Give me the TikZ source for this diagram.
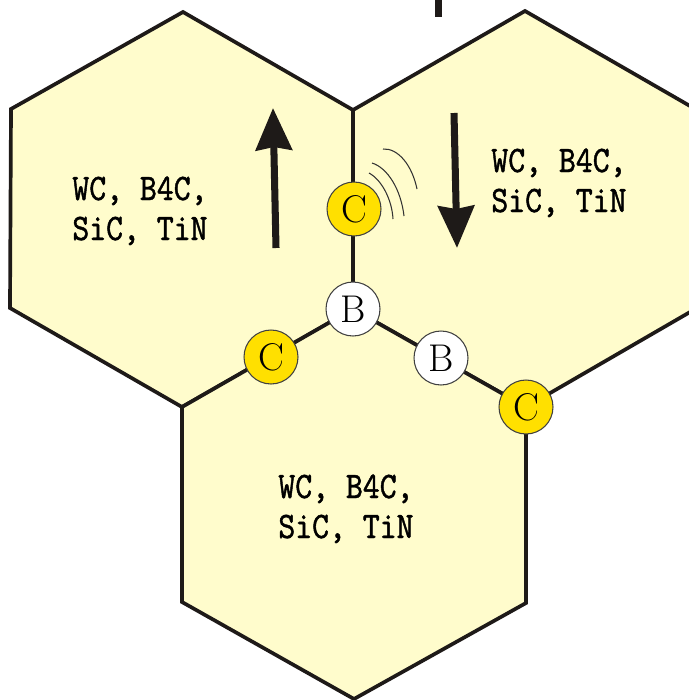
\documentclass[tikz,border=0pt]{standalone}
\usepackage{fontspec}
\usetikzlibrary{arrows.meta}
\definecolor{hexfill}{HTML}{FFFCCC}
\definecolor{cyel}{HTML}{FFE000}
\definecolor{edgec}{HTML}{1E1A18}
\newfontfamily\lblfamily{lmmono10-regular.otf}[FakeStretch=0.86,FakeBold=1.2]
\newcommand\labelfont{\fontsize{21.3}{22.7}\selectfont\lblfamily}
\begin{document}
\begin{tikzpicture}[x=0.02cm,y=-0.02cm,
  hexagon/.style={fill=hexfill, draw=edgec, line width=2.1pt, line join=miter},
  atomC/.style={circle, fill=cyel, draw=black!75, line width=0.6pt, minimum size=1.08cm, inner sep=0pt, font=\fontsize{22}{22}\selectfont},
  atomB/.style={atomC, fill=white},
  lbl/.style={anchor=base west, inner sep=0pt, font=\labelfont},
  bigarrow/.style={draw=edgec, line width=4pt, -{Stealth[length=0.84cm,width=0.72cm,inset=0.06cm]}},
  wave/.style={draw=black!80, line width=0.6pt}]
\useasboundingbox (0,0) rectangle (689,700);
\clip (0,0) rectangle (689,700);
% vertices
\coordinate (Lt) at (183,12);
\coordinate (Lul) at (11,109);
\coordinate (Lll) at (10,308);
\coordinate (Lb) at (182,407);
\coordinate (J1) at (353,110);
\coordinate (J0) at (353,309);
\coordinate (Rt) at (525,11);
\coordinate (Rur) at (697,110);
\coordinate (Rlr) at (697,308);
\coordinate (J2) at (526,407);
\coordinate (Blr) at (526,603);
\coordinate (Bb) at (354,699);
\coordinate (Bll) at (182,602);
% hexagons
\path[hexagon] (Lt) -- (J1) -- (J0) -- (Lb) -- (Lll) -- (Lul) -- cycle;
\path[hexagon] (J1) -- (Rt) -- (Rur) -- (Rlr) -- (J2) -- (J0) -- cycle;
\path[hexagon] (J0) -- (J2) -- (Blr) -- (Bb) -- (Bll) -- (Lb) -- cycle;
% top mark
\fill[edgec] (435,0) rectangle (442,17);
% atoms
\node[atomC] (C1) at (354,209) {C};
\node[atomB] (B1) at (J0) {B};
\node[atomC] (C2) at (271,357) {C};
\node[atomB] (B2) at (441,358) {B};
\node[atomC] (C3) at (J2) {C};
% waves
\draw[wave] (369,173) .. controls (382,180) and (392,200) .. (393,219);
\draw[wave] (372,163) .. controls (388,168) and (401,190) .. (404,216);
\draw[wave] (383,149) .. controls (398,148) and (412,165) .. (417,189);
% arrows
\coordinate (up1) at (276,248);
\coordinate (up2) at (273,108);
\coordinate (dn1) at (454,113);
\coordinate (dn2) at (457,248);
\draw[bigarrow] (up1) -- (up2);
\draw[bigarrow] (dn1) -- (dn2);
% labels
\node[lbl] (l1a) at (72,200) {WC, B4C,};
\node[lbl] (l1b) at (72,240) {SiC, TiN};
\node[lbl] (l2a) at (491,172) {WC, B4C,};
\node[lbl] (l2b) at (491,212) {SiC, TiN};
\node[lbl] (l3a) at (278,498) {WC, B4C,};
\node[lbl] (l3b) at (278,538) {SiC, TiN};
\end{tikzpicture}
\end{document}
